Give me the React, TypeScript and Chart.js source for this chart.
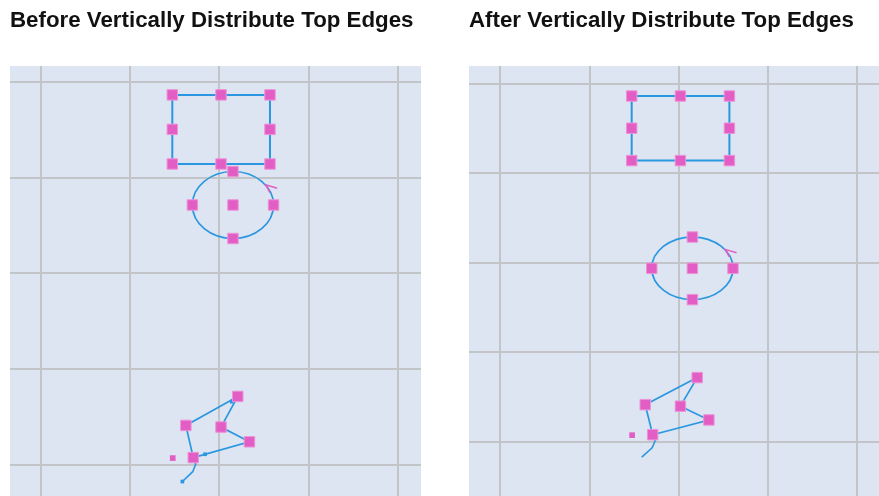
import React, { useEffect, useRef } from "react";
import { Chart, registerables } from "chart.js";

Chart.register(...registerables);

// Drawing units: one grid cell = 1 unit (page grid at integer values)
const GRID_TICKS = [0, 1, 2, 3, 4];

const TITLES = ["Before Vertically Distribute Top Edges", "After Vertically Distribute Top Edges"];

// Rectangle (top shape, unchanged)
const RECT_X = [1.472, 2.018, 2.567];
const RECT_Y = [0.135, 0.495, 0.857];

// Ellipse (middle shape, the one that moves)
const ELLIPSE_CX = 2.152;
const ELLIPSE_RX = 0.455;
const ELLIPSE_RY = 0.35;
const ELLIPSE_CY_BEFORE = 1.285;
const ELLIPSE_CY_AFTER = 2.062;
// rotation hook mark near the ellipse, offsets from its centre
const ROT_DX = [0.495, 0.367, 0.415];
const ROT_DY = [-0.175, -0.212, -0.128];

// Polygon (bottom shape, unchanged): top, middle, right, bottom-left, left
const POLY_X = [2.206, 2.018, 2.337, 1.707, 1.624];
const POLY_Y = [3.284, 3.604, 3.758, 3.923, 3.587];
const TAIL_X = [1.707, 1.734, 1.701, 1.585];
const TAIL_Y = [3.923, 3.993, 4.07, 4.173];
const PIN_X = [1.477];
const PIN_Y = [3.928];
const MARK_X = [2.138, 1.839, 1.585];
const MARK_Y = [3.339, 3.888, 4.173];

// Visible window of each panel (axis limits)
const X_RANGE_BEFORE = [-0.3475, 4.26];
const Y_RANGE_BEFORE = [-0.167, 4.324];
const X_RANGE_AFTER = [-0.3507, 4.243];
const Y_RANGE_AFTER = [-0.2013, 4.6085];

const PINK = "#e25ec4";
const PINK_EDGE = "#ee93d8";
const BLUE = "#2b97e0";
const PANEL_BG = "#dce5f1";
const GRID = "#c2c4c7";

const zip = (xs: number[], ys: number[]) => xs.map((x, i) => ({ x, y: ys[i] }));

function buildDatasets(cy: number, showMarks: boolean) {
  const rectHandles: { x: number; y: number }[] = [];
  RECT_Y.forEach((y, j) =>
    RECT_X.forEach((x, i) => {
      if (!(i === 1 && j === 1)) rectHandles.push({ x, y });
    })
  );
  const ellHandles = [
    { x: ELLIPSE_CX, y: cy },
    { x: ELLIPSE_CX, y: cy - ELLIPSE_RY },
    { x: ELLIPSE_CX, y: cy + ELLIPSE_RY },
    { x: ELLIPSE_CX - ELLIPSE_RX, y: cy },
    { x: ELLIPSE_CX + ELLIPSE_RX, y: cy },
  ];
  const polyHandles = zip(POLY_X, POLY_Y);
  const handleStyle = {
    showLine: false,
    pointStyle: "rect",
    pointRadius: 7.4,
    pointBackgroundColor: PINK,
    pointBorderColor: PINK_EDGE,
    pointBorderWidth: 1,
  };
  const ds: any[] = [
    { label: "handles", data: [...rectHandles, ...ellHandles, ...polyHandles], ...handleStyle },
    {
      label: "pin",
      data: zip(PIN_X, PIN_Y),
      showLine: false,
      pointStyle: "rect",
      pointRadius: 4,
      pointBackgroundColor: PINK,
      pointBorderWidth: 0,
    },
    {
      label: "rotation",
      data: ROT_DX.map((dx, i) => ({ x: ELLIPSE_CX + dx, y: cy + ROT_DY[i] })),
      showLine: true,
      borderColor: PINK,
      borderWidth: 1.5,
      pointRadius: 0,
    },
    {
      label: "rectangle",
      data: [
        { x: RECT_X[0], y: RECT_Y[0] },
        { x: RECT_X[2], y: RECT_Y[0] },
        { x: RECT_X[2], y: RECT_Y[2] },
        { x: RECT_X[0], y: RECT_Y[2] },
        { x: RECT_X[0], y: RECT_Y[0] },
      ],
      showLine: true,
      borderColor: BLUE,
      borderWidth: 2,
      pointRadius: 0,
    },
    {
      label: "polygon",
      data: [...zip(POLY_X, POLY_Y), { x: POLY_X[0], y: POLY_Y[0] }],
      showLine: true,
      borderColor: BLUE,
      borderWidth: 1.7,
      pointRadius: 0,
    },
    {
      label: "tail",
      data: zip(TAIL_X, TAIL_Y),
      showLine: true,
      borderColor: BLUE,
      borderWidth: 1.6,
      pointRadius: 0,
    },
  ];
  if (showMarks) {
    ds.splice(2, 0, {
      label: "marks",
      data: zip(MARK_X, MARK_Y),
      showLine: false,
      pointStyle: "rect",
      pointRadius: 2.6,
      pointBackgroundColor: BLUE,
      pointBorderWidth: 0,
    });
  }
  return ds;
}

const backgroundPlugin = {
  id: "panelBg",
  beforeDraw(chart: any) {
    const { ctx, chartArea } = chart;
    ctx.save();
    ctx.fillStyle = PANEL_BG;
    ctx.fillRect(chartArea.left, chartArea.top, chartArea.right - chartArea.left, chartArea.bottom - chartArea.top);
    ctx.restore();
  },
};

const ellipsePlugin = {
  id: "ellipseShape",
  beforeDatasetsDraw(chart: any, _args: any, opts: any) {
    const { ctx, chartArea, scales } = chart;
    const cx = scales.x.getPixelForValue(ELLIPSE_CX);
    const cyPx = scales.y.getPixelForValue(opts.cy);
    const rx = Math.abs(scales.x.getPixelForValue(ELLIPSE_CX + ELLIPSE_RX) - cx);
    const ry = Math.abs(scales.y.getPixelForValue(opts.cy + ELLIPSE_RY) - cyPx);
    ctx.save();
    ctx.beginPath();
    ctx.rect(chartArea.left, chartArea.top, chartArea.right - chartArea.left, chartArea.bottom - chartArea.top);
    ctx.clip();
    ctx.beginPath();
    ctx.ellipse(cx, cyPx, rx, ry, 0, 0, Math.PI * 2);
    ctx.strokeStyle = BLUE;
    ctx.lineWidth = 1.7;
    ctx.stroke();
    ctx.restore();
  },
};

function Panel(props: {
  title: string;
  left: number;
  width: number;
  xRange: number[];
  yRange: number[];
  cy: number;
  marks: boolean;
}) {
  const ref = useRef<HTMLCanvasElement>(null);
  useEffect(() => {
    const setTicks = (scale: any) => {
      scale.ticks = GRID_TICKS.map((v) => ({ value: v }));
    };
    const axis = (range: number[], reverse: boolean) => ({
      type: "linear" as const,
      min: range[0],
      max: range[1],
      reverse,
      afterBuildTicks: setTicks,
      ticks: { display: false },
      border: { display: false },
      grid: { color: GRID, lineWidth: 2, drawTicks: false },
    });
    const chart = new Chart(ref.current as HTMLCanvasElement, {
      type: "scatter",
      data: { datasets: buildDatasets(props.cy, props.marks) },
      options: {
        animation: false,
        responsive: false,
        events: [],
        layout: { padding: 0, autoPadding: false },
        scales: {
          x: axis(props.xRange, false),
          y: axis(props.yRange, true),
        },
        plugins: {
          legend: { display: false },
          tooltip: { enabled: false },
          title: {
            display: true,
            text: props.title,
            align: "start",
            color: "#111111",
            font: { family: "'Liberation Sans', Arial, sans-serif", size: 22.3, weight: "bold", lineHeight: 1.2 },
            padding: { top: 7.4, bottom: 31.8 },
          },
          ellipseShape: { cy: props.cy },
        } as any,
      },
      plugins: [backgroundPlugin, ellipsePlugin],
    });
    return () => chart.destroy();
  }, []);
  return (
    <canvas
      ref={ref}
      width={props.width}
      height={496}
      style={{ position: "absolute", left: props.left, top: 0, width: props.width, height: 496, display: "block" }}
    />
  );
}

export default function App() {
  return (
    <div style={{ position: "absolute", left: 0, top: 0, width: 879, height: 496, background: "#ffffff", overflow: "hidden" }}>
      <Panel title={TITLES[0]} left={10} width={411} xRange={X_RANGE_BEFORE} yRange={Y_RANGE_BEFORE} cy={ELLIPSE_CY_BEFORE} marks={true} />
      <Panel title={TITLES[1]} left={469} width={410} xRange={X_RANGE_AFTER} yRange={Y_RANGE_AFTER} cy={ELLIPSE_CY_AFTER} marks={false} />
    </div>
  );
}
